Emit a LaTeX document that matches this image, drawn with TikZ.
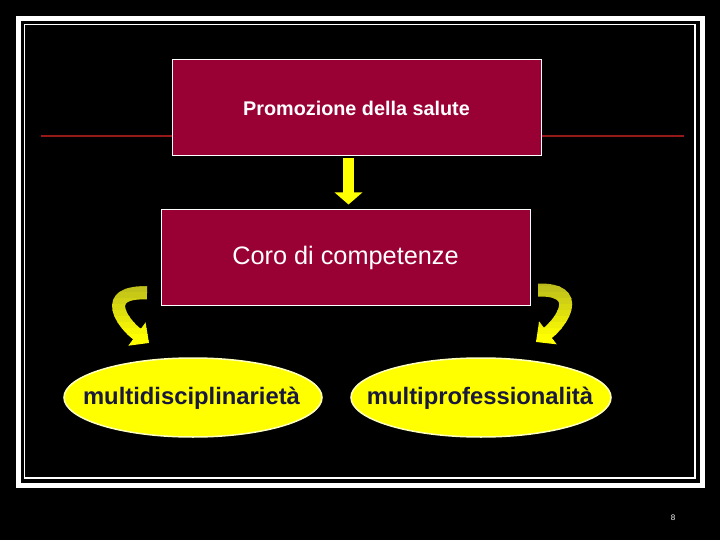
\documentclass[tikz,border=0pt]{standalone}
\usepackage{fontspec}
\setmainfont{Liberation Sans}
\usetikzlibrary{arrows.meta,shapes.geometric}
\definecolor{boxred}{RGB}{153,0,51}
\definecolor{linered}{RGB}{150,25,25}
\definecolor{olivey}{RGB}{185,185,30}
\definecolor{brighty}{RGB}{255,255,0}
\definecolor{navytext}{RGB}{25,25,60}
\definecolor{glow}{RGB}{255,255,190}
\tikzset{
  redbox/.style={draw=white, line width=1pt, fill=boxred, text=white, inner sep=0pt},
  oval/.style={ellipse, draw=glow, line width=1.5pt, fill=brighty, inner sep=0pt},
  ovaltext/.style={text=navytext, inner sep=0pt, font=\fontsize{23.8}{24}\selectfont\bfseries},
  bigarrow/.style={line width=11.6pt, -{Triangle[width=27pt,length=12pt]}},
  curvearrow/.style={line width=13pt, -{Triangle[width=28pt,length=15pt]}},
}
\begin{document}
\begin{tikzpicture}[x=1pt,y=-1pt]
  \useasboundingbox (0,0) rectangle (720,540);
  \fill[black] (0,0) rectangle (720,540);
  % frames
  \draw[white, line width=5pt] (18.5,18.5) rectangle (702.5,485.5);
  \draw[white, line width=1.5pt] (24.5,24.5) rectangle (695,478);
  % red horizontal line
  \draw[linered, line width=2pt] (41,136) -- (684,136);
  % boxes
  \node[redbox, minimum width=369pt, minimum height=96pt,
        font=\fontsize{19.8}{20}\selectfont\bfseries] (p) at (356.5,108) {Promozione della salute};
  \node[redbox, minimum width=369pt, minimum height=95pt,
        font=\fontsize{25.3}{26}\selectfont] (c) at (345.5,257.5) {Coro di competenze};
  % ellipses
  \node[oval, minimum width=258pt, minimum height=79pt] (e1) at (193,397.5) {};
  \node[ovaltext] (e1t) at (191.5,398) {multidisciplinarietà};
  \node[oval, minimum width=260pt, minimum height=79pt] (e2) at (481,397.5) {};
  \node[ovaltext] (e2t) at (480,398) {multiprofessionalità};
  % down arrow
  \coordinate (ax) at (348.5,0);
  \draw[brighty, bigarrow, shorten <=2pt, shorten >=5pt] (ax |- p.south) -- (ax |- c.north);
  % curved arrows with stepped gradient
  \coordinate (l0) at (147,293);
  \coordinate (l3) at (149,343);
  \coordinate (r0) at (538,290);
  \coordinate (r3) at (536,342);
  \foreach \i in {0,...,12} {
    \pgfmathsetmacro\p{min(100,\i*11)}
    \begin{scope}
      \clip (90,{280+\i*6}) rectangle (620,{286+\i*6+0.6});
      \draw[brighty!\p!olivey, curvearrow] (l0) .. controls (100,291) and (122,323) .. (l3);
      \draw[brighty!\p!olivey, curvearrow] (r0) .. controls (584,289) and (562,322) .. (r3);
    \end{scope}
  }
  \node[white, font=\fontsize{8}{8}\selectfont] (pg) at (673,518) {8};
\end{tikzpicture}
\end{document}
